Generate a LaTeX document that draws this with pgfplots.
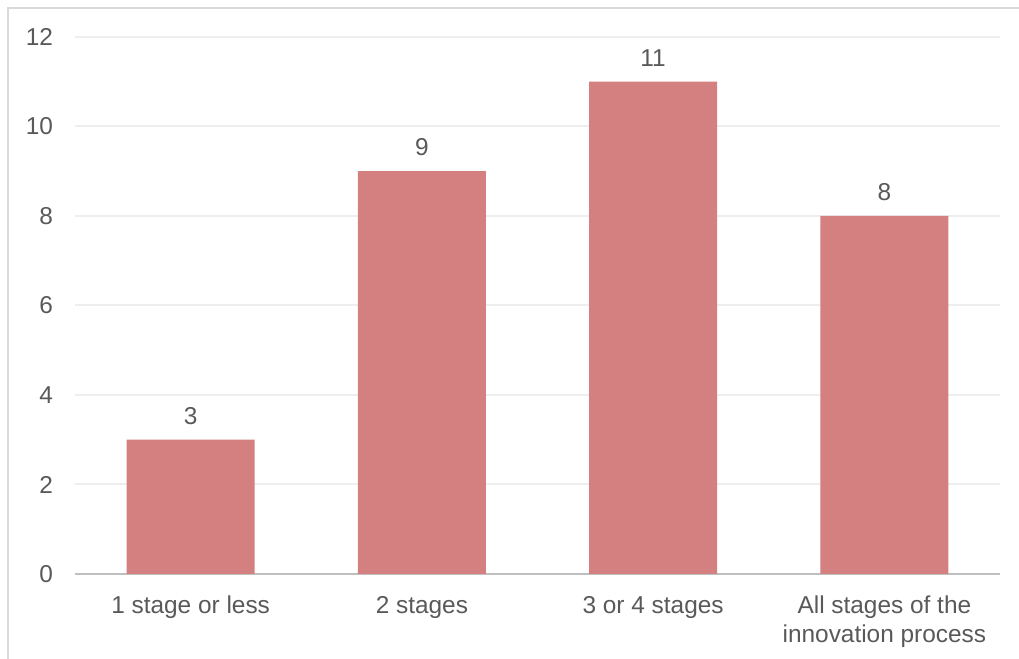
\documentclass[border=0pt]{standalone}
\usepackage{pgfplots}
\pgfplotsset{compat=1.18}
\usepackage{fontspec}
\setmainfont{Liberation Sans}
\definecolor{barred}{RGB}{212,128,128}
\definecolor{txtgray}{RGB}{89,89,89}
\definecolor{gridgray}{RGB}{238,238,238}
\definecolor{axgray}{RGB}{191,191,191}
\definecolor{framegray}{RGB}{217,217,217}

\begin{document}
\begin{tikzpicture}[x=0.5pt,y=0.5pt]
\path[use as bounding box] (0,0) rectangle (1019,659);
\draw[framegray, line width=1pt] (8,0) -- (8,651) -- (1019,651);
\begin{axis}[
    at={(37.5pt,42.5pt)}, anchor=south west,
    scale only axis, width=462.5pt, height=268.5pt,
    xmin=-0.5, xmax=3.5, ymin=0, ymax=12,
    ytick={0,2,...,12},
    xtick={0,1,2,3},
    xticklabels={1 stage or less, 2 stages, 3 or 4 stages, {All stages of the\\innovation process}},
    axis x line*=bottom, axis y line*=left,
    axis line style={-},
    y axis line style={draw=none},
    x axis line style={axgray, line width=1pt},
    major tick length=0pt,
    ymajorgrids,
    grid style={gridgray, line width=1pt},
    font=\fontsize{12.2}{14.5}\selectfont,
    tick label style={text=txtgray},
    yticklabel style={xshift=-7.5pt},
    xticklabel style={yshift=-7.5pt, align=center},
    /pgf/number format/assume math mode=true,
    ybar, bar width=64pt,
    nodes near coords,
    nodes near coords style={text=txtgray, yshift=4pt},
]
\addplot[fill=barred, draw=none] coordinates {(0,3) (1,9) (2,11) (3,8)};
\end{axis}
\end{tikzpicture}
\end{document}
